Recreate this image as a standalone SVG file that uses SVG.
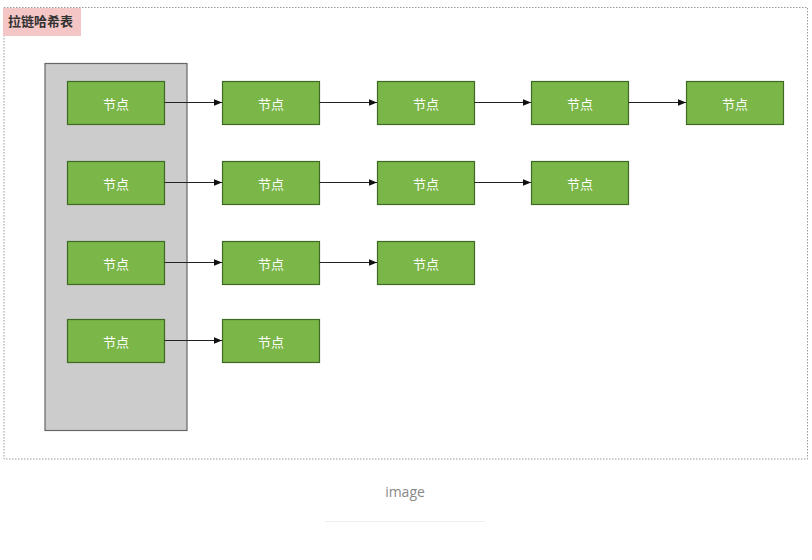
<svg xmlns="http://www.w3.org/2000/svg" width="812" height="560" viewBox="0 0 812 560">
<style>
.node rect{fill:#7ab648;stroke:#3f6a26;stroke-width:1.2}
.node text{fill:#ffffff;font-family:"Noto Sans CJK SC",sans-serif;font-size:13px;text-anchor:middle;dominant-baseline:central}
.edge{stroke:#222;stroke-width:1;fill:none;marker-end:url(#arr)}
</style>
<defs>
<marker id="arr" viewBox="0 0 10 10" refX="10" refY="5" markerWidth="8" markerHeight="8" markerUnits="userSpaceOnUse" orient="auto">
<path d="M0,1 L10,5 L0,9 z" fill="#111"/>
</marker>
</defs>
<rect width="812" height="560" fill="#fff"/>
<g id="frame">
<rect x="4" y="7.5" width="803.5" height="451.5" fill="none" stroke="#999" stroke-width="1" stroke-dasharray="1.5,1.5"/>
<rect x="3" y="8" width="78" height="28" fill="#f5c6c6"/>
<text x="8" y="26" font-family="'Noto Sans CJK SC',sans-serif" font-size="13" font-weight="bold" fill="#333">拉链哈希表</text>
</g>
<g id="bucket">
<rect x="45" y="63.5" width="142" height="367" fill="#cccccc" stroke="#666" stroke-width="1.2"/>
</g>
<g id="n11" class="node"><rect x="67.5" y="81.5" width="97" height="43"/><text x="116" y="103">节点</text></g>
<g id="n12" class="node"><rect x="222.5" y="81.5" width="97" height="43"/><text x="271" y="103">节点</text></g>
<g id="n13" class="node"><rect x="377.5" y="81.5" width="97" height="43"/><text x="426" y="103">节点</text></g>
<g id="n14" class="node"><rect x="531.5" y="81.5" width="97" height="43"/><text x="580" y="103">节点</text></g>
<g id="n15" class="node"><rect x="686.5" y="81.5" width="97" height="43"/><text x="735" y="103">节点</text></g>
<g id="n21" class="node"><rect x="67.5" y="161.5" width="97" height="43"/><text x="116" y="183">节点</text></g>
<g id="n22" class="node"><rect x="222.5" y="161.5" width="97" height="43"/><text x="271" y="183">节点</text></g>
<g id="n23" class="node"><rect x="377.5" y="161.5" width="97" height="43"/><text x="426" y="183">节点</text></g>
<g id="n24" class="node"><rect x="531.5" y="161.5" width="97" height="43"/><text x="580" y="183">节点</text></g>
<g id="n31" class="node"><rect x="67.5" y="241.5" width="97" height="43"/><text x="116" y="263">节点</text></g>
<g id="n32" class="node"><rect x="222.5" y="241.5" width="97" height="43"/><text x="271" y="263">节点</text></g>
<g id="n33" class="node"><rect x="377.5" y="241.5" width="97" height="43"/><text x="426" y="263">节点</text></g>
<g id="n41" class="node"><rect x="67.5" y="319.5" width="97" height="43"/><text x="116" y="341">节点</text></g>
<g id="n42" class="node"><rect x="222.5" y="319.5" width="97" height="43"/><text x="271" y="341">节点</text></g>
<g id="edges">
<path class="edge" d="M164.5,102.5 H222"/>
<path class="edge" d="M319.5,102.5 H377"/>
<path class="edge" d="M474.5,102.5 H531"/>
<path class="edge" d="M628.5,102.5 H686"/>
<path class="edge" d="M164.5,182.5 H222"/>
<path class="edge" d="M319.5,182.5 H377"/>
<path class="edge" d="M474.5,182.5 H531"/>
<path class="edge" d="M164.5,262.5 H222"/>
<path class="edge" d="M319.5,262.5 H377"/>
<path class="edge" d="M164.5,340.5 H222"/>
</g>
<g id="caption">
<text x="405" y="497" font-family="'Open Sans','Liberation Sans',sans-serif" font-size="14" fill="#888" text-anchor="middle">image</text>
<line x1="325" y1="521.5" x2="485" y2="521.5" stroke="#eee" stroke-width="1"/>
</g>
</svg>
